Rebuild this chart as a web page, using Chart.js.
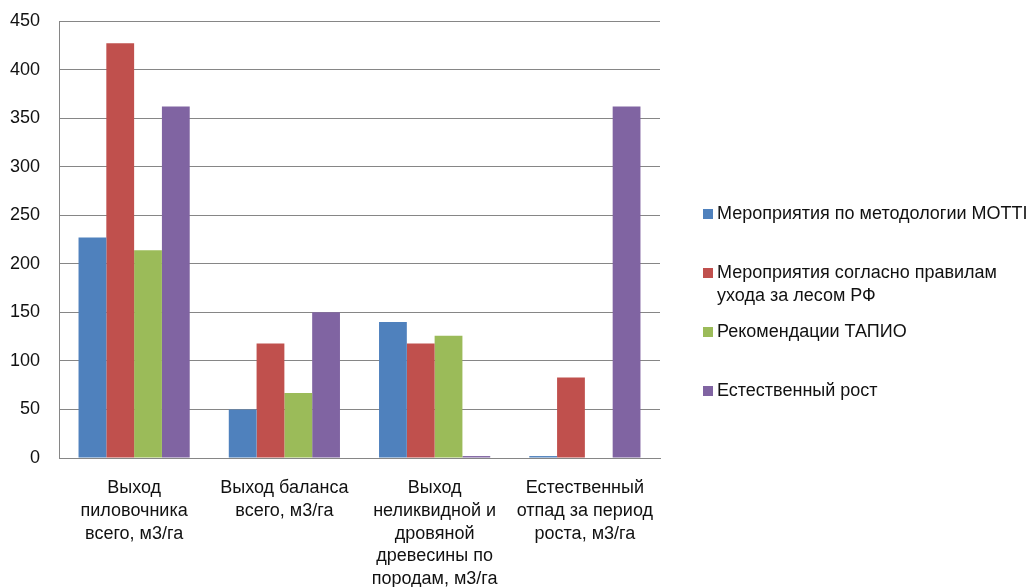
<!DOCTYPE html>
<html><head><meta charset="utf-8">
<script src="https://cdn.jsdelivr.net/npm/chart.js@4"></script>
<style>
html,body{margin:0;padding:0;background:#fff;}
#wrap{position:relative;width:1027px;height:587px;overflow:hidden;}
#legend{position:absolute;left:703px;top:202px;width:324px;font-family:"Liberation Sans",Arial,sans-serif;font-size:18px;line-height:23px;color:#111;}
.item{position:absolute;left:0;display:flex;align-items:flex-start;}
.sw{width:10px;height:10px;margin-top:7px;margin-right:4px;flex:none;}
.txt{width:318px;white-space:normal;}
</style></head>
<body>
<div id="wrap"><canvas id="c" width="1027" height="587"></canvas><div id="legend"></div></div>
<script>
const categories = [
  ["Выход","пиловочника","всего, м3/га"],
  ["Выход баланса","всего, м3/га"],
  ["Выход","неликвидной и","дровяной","древесины по","породам, м3/га"],
  ["Естественный","отпад за период","роста, м3/га"]
];
const seriesNames = [
  "Мероприятия по методологии MOTTI",
  "Мероприятия согласно правилам ухода за лесом РФ",
  "Рекомендации ТАПИО",
  "Естественный рост"
];
const motti   = [227, 50, 140, 2];
const rfRules = [427, 118, 118, 83];
const tapio   = [214, 67, 126, 0];
const natural = [362, 150, 2, 362];
const yTicks = [0, 50, 100, 150, 200, 250, 300, 350, 400, 450];

const colors = ["#4F81BD", "#C0504D", "#9BBB59", "#8064A2"];
const values = [motti, rfRules, tapio, natural];
const FONT = '"Liberation Sans", Arial, sans-serif';

const datasets = seriesNames.map((n, i) => ({
  label: n, data: values[i], backgroundColor: colors[i],
  borderWidth: 0, barPercentage: 1.0, categoryPercentage: 0.74
}));

new Chart(document.getElementById('c'), {
  type: 'bar',
  data: { labels: categories, datasets },
  options: {
    responsive: false, animation: false,
    layout: { padding: { left: 0, right: 367, top: 21, bottom: 0 } },
    plugins: { legend: { display: false }, tooltip: { enabled: false } },
    scales: {
      x: {
        grid: { display: false, drawTicks: false },
        border: { color: '#868686', width: 1 },
        ticks: { color: '#111', maxRotation: 0, autoSkip: false, padding: 19,
                 font: { family: FONT, size: 18, lineHeight: 1.26 } },
        afterFit: s => { s.height = 129; s.paddingLeft = 0; s.paddingRight = 0; s.paddingTop = 0; s.paddingBottom = 0; }
      },
      y: {
        min: 0, max: 450,
        afterBuildTicks: s => { s.ticks = yTicks.map(v => ({ value: v })); },
        grid: { color: '#868686', lineWidth: 1, drawTicks: false },
        border: { color: '#868686', width: 1 },
        ticks: { color: '#111', padding: 19, font: { family: FONT, size: 18 } },
        afterFit: s => { s.width = 59; s.paddingTop = 0; s.paddingBottom = 0; s.paddingLeft = 0; s.paddingRight = 0; }
      }
    }
  }
});

const lg = document.getElementById('legend');
seriesNames.forEach((n, i) => {
  const d = document.createElement('div');
  d.className = 'item';
  d.style.top = (i * 59) + 'px';
  d.innerHTML = '<div class="sw" style="background:' + colors[i] + '"></div><div class="txt"></div>';
  d.querySelector('.txt').textContent = n;
  lg.appendChild(d);
});
</script>
</body></html>
